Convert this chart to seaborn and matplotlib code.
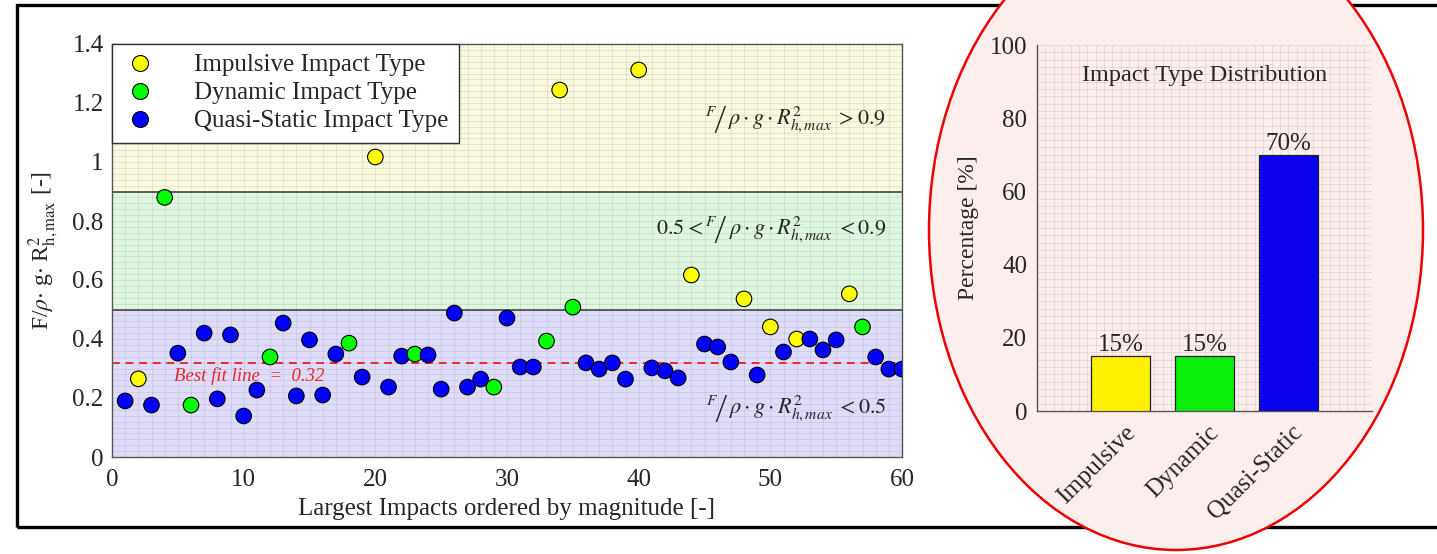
import numpy as np
import pandas as pd
import matplotlib
matplotlib.use("Agg")
import matplotlib.pyplot as plt
import matplotlib.transforms as mtransforms
from matplotlib.patches import Ellipse, Rectangle
from matplotlib.ticker import MultipleLocator, FuncFormatter
from matplotlib.lines import Line2D
import seaborn as sns

# ---- data -------------------------------------------------------------
impact_index = list(range(1, 61))
impact_value = [
    0.19, 0.265, 0.176, 0.88, 0.352, 0.176, 0.42, 0.197, 0.414, 0.139,
    0.227, 0.339, 0.454, 0.207, 0.397, 0.21, 0.349, 0.386, 0.271, 1.017,
    0.237, 0.342, 0.349, 0.346, 0.23, 0.488, 0.237, 0.264, 0.237, 0.471,
    0.305, 0.305, 0.393, 1.244, 0.508, 0.319, 0.298, 0.319, 0.264, 1.312,
    0.302, 0.292, 0.268, 0.617, 0.383, 0.373, 0.322, 0.536, 0.278, 0.441,
    0.356, 0.40, 0.40, 0.363, 0.397, 0.553, 0.441, 0.339, 0.298, 0.298,
]
impulsive_idx = [2, 20, 34, 40, 44, 48, 50, 52, 56]
dynamic_idx = [4, 6, 12, 18, 23, 29, 33, 35, 57]
best_fit = 0.32

type_names = ["Impulsive Impact Type", "Dynamic Impact Type", "Quasi-Static Impact Type"]
type_colors = ["#ffff00", "#00ff00", "#0000ff"]

bar_categories = ["Impulsive", "Dynamic", "Quasi-Static"]
bar_percent = [15, 15, 70]
bar_colors = ["#fff200", "#0af00a", "#0a00ee"]

# ---- style ------------------------------------------------------------
sns.set_theme(style="white")
plt.rcParams["font.family"] = ["Liberation Serif", "DejaVu Serif"]
plt.rcParams["mathtext.fontset"] = "stix"
plt.rcParams["xtick.color"] = "#262626"
plt.rcParams["ytick.color"] = "#262626"

FS = 18

def kind(i):
    if i in impulsive_idx:
        return type_names[0]
    if i in dynamic_idx:
        return type_names[1]
    return type_names[2]

df = pd.DataFrame({"idx": impact_index, "val": impact_value})
df["type"] = [kind(i) for i in impact_index]

W, H = 1437, 554
fig = plt.figure(figsize=(W / 100, H / 100), dpi=100)

# outer frame and highlight ellipse (figure pixel geometry)
fig.patches.append(Rectangle((17 / W, 1 - 527 / H), 1.05, 522 / H,
                             transform=fig.transFigure, fill=False,
                             edgecolor="black", lw=2.4, zorder=-2))
fig.patches.append(Ellipse((1176 / W, 1 - 230 / H), 494 / W, 640 / H,
                           transform=fig.transFigure, facecolor="#fdeeee",
                           edgecolor="#ee0000", lw=1.8, zorder=-1))

# ---- left: impacts scatter -------------------------------------------
ax = fig.add_axes([112 / W, 1 - 457 / H, 790 / W, 413 / H])
ax.set_xlim(0, 60)
ax.set_ylim(0, 1.4)
ax.axhspan(0.9, 1.4, color="#fbf9dd", zorder=0, lw=0)
ax.axhspan(0.5, 0.9, color="#dff6df", zorder=0, lw=0)
ax.axhspan(0.0, 0.5, color="#dedcf8", zorder=0, lw=0)
ax.axhline(0.9, color="#444444", lw=1.2, zorder=1)
ax.axhline(0.5, color="#444444", lw=1.2, zorder=1)

ax.xaxis.set_major_locator(MultipleLocator(10))
ax.xaxis.set_minor_locator(MultipleLocator(1))
ax.yaxis.set_major_locator(MultipleLocator(0.2))
ax.yaxis.set_minor_locator(MultipleLocator(0.02))
ax.grid(which="both", color="#9a9aa8", lw=0.45, alpha=0.35, zorder=0.5)
ax.set_axisbelow(True)

ax.axhline(best_fit, color="#e8282e", lw=1.4, ls=(0, (4, 3)), zorder=2)
ax.text(4.7, 0.276, "Best fit line  =  %.2f" % best_fit, color="#e8282e",
        fontsize=13.5, style="italic", va="center", ha="left", zorder=2)

sns.scatterplot(data=df, x="idx", y="val", hue="type", hue_order=type_names,
                palette=type_colors, s=125, edgecolor="black", linewidth=0.8,
                legend=False, zorder=3, ax=ax)

handles = [Line2D([], [], ls="", marker="o", markersize=11.5, markerfacecolor=c,
                  markeredgecolor="black", markeredgewidth=0.8)
           for c in type_colors]
leg = ax.legend(handles, type_names, loc="upper left", fontsize=FS,
                frameon=True, fancybox=False, borderaxespad=0,
                handletextpad=1.5, borderpad=0.4, labelspacing=0.22,
                handlelength=1.4)
leg.get_frame().set_edgecolor("#303030")
leg.get_frame().set_linewidth(1.0)
leg.get_frame().set_facecolor("white")
leg.get_frame().set_alpha(1)

frac = r"$^{F}\!\left/\,\rho\cdot g\cdot R^{2}_{h,max}\right.$"
ax.text(58.8, 1.14, frac + r"$\;>0.9$", fontsize=16, ha="right", va="center")
ax.text(58.8, 0.77, r"$0.5<$" + frac + r"$\;<0.9$", fontsize=16, ha="right", va="center")
ax.text(58.8, 0.16, frac + r"$\;<0.5$", fontsize=16, ha="right", va="center")

ax.tick_params(axis="both", which="major", direction="in", length=6,
               labelsize=FS, width=0.8, top=False, right=False, pad=6)
ax.tick_params(axis="x", pad=9)
ax.tick_params(which="minor", length=0)
ax.yaxis.set_major_formatter(FuncFormatter(lambda v, p: "%g" % round(v, 2)))
ax.set_xlabel("Largest Impacts ordered by magnitude [-]", fontsize=FS, labelpad=5)
ax.set_ylabel(r"F/$\rho$$\cdot$ g$\cdot$ R$^{2}_{\rm h,max}$ [-]", fontsize=17, labelpad=8)
for s in ax.spines.values():
    s.set_color("#555555")
    s.set_linewidth(1.0)

# ---- right: distribution bars ----------------------------------------
bx = fig.add_axes([1037 / W, 1 - 411 / H, 335 / W, 366 / H])
bx.patch.set_alpha(0)
sns.barplot(x=bar_categories, y=bar_percent, hue=bar_categories,
            palette=bar_colors, legend=False, width=0.7,
            edgecolor="#222222", linewidth=0.9, saturation=1, ax=bx, zorder=3)
bx.set_xlim(-1, 3)
bx.set_ylim(0, 100)
bx.yaxis.set_major_locator(MultipleLocator(20))
bx.yaxis.set_minor_locator(MultipleLocator(2))
bx.xaxis.set_minor_locator(MultipleLocator(0.1))
bx.grid(which="both", color="#b8a8a8", lw=0.45, alpha=0.45)
bx.set_axisbelow(True)
for c in bx.containers:
    bx.bar_label(c, fmt="%g%%", fontsize=18, padding=0)
bx.text(0.5, 0.918, "Impact Type Distribution", transform=bx.transAxes,
        ha="center", va="center", fontsize=17.5)
bx.set_ylabel("Percentage [%]", fontsize=17, labelpad=8)
bx.set_xlabel("")
bx.tick_params(axis="y", direction="in", length=5, labelsize=FS, pad=7)
bx.tick_params(axis="x", length=0, labelsize=FS, pad=13)
bx.tick_params(which="minor", length=0)
shift = mtransforms.ScaledTranslation(8 / 72, 0, fig.dpi_scale_trans)
for lbl in bx.get_xticklabels():
    lbl.set_rotation(45)
    lbl.set_ha("right")
    lbl.set_va("center")
    lbl.set_rotation_mode("anchor")
    lbl.set_transform(lbl.get_transform() + shift)
for side in ("top", "right"):
    bx.spines[side].set_visible(False)
for side in ("left", "bottom"):
    bx.spines[side].set_color("#555555")
    bx.spines[side].set_linewidth(1.0)

fig.savefig("out.png", dpi=100)
